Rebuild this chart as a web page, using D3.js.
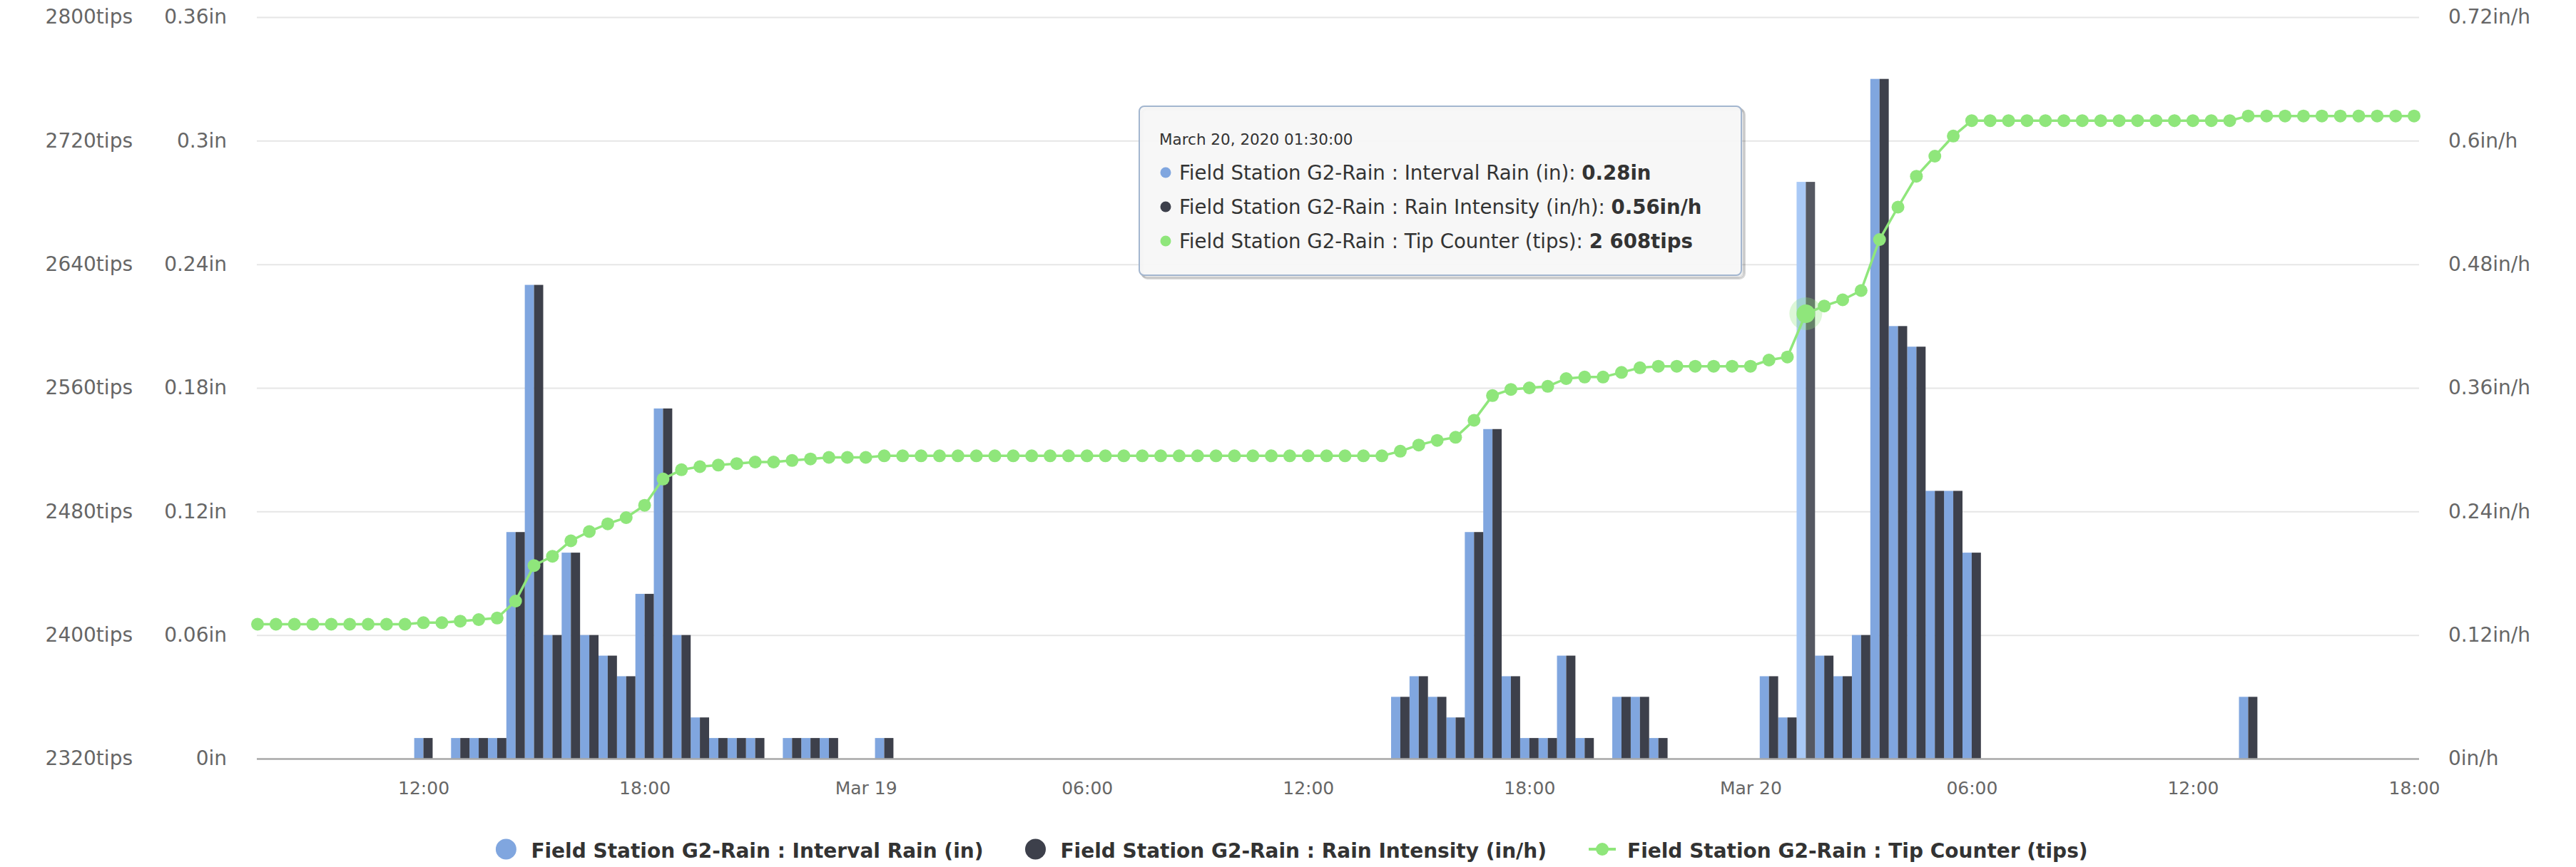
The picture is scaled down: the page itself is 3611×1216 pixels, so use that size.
<!DOCTYPE html>
<html><head><meta charset="utf-8">
<script src="https://cdn.jsdelivr.net/npm/d3@7"></script>
<style>body{margin:0;background:#fff}svg{display:block}</style>
</head><body>
<svg id="chart" width="3611" height="1216"></svg>
<script>
// ---------- DATA ----------
const startTime = new Date(2020, 2, 18, 7, 30);   // first sample, Mar 18 2020 07:30
const stepMinutes = 30;                            // one sample every 30 minutes

// Interval Rain (in), 07:30 Mar 18 -> 18:00 Mar 20 (rows of 6 h)
const intervalRain = [
  0,0,0,0,0,0,0,0,0,0.01,0,0.01,
  0.01,0.01,0.11,0.23,0.06,0.10,0.06,0.05,0.04,0.08,0.17,0.06,
  0.02,0.01,0.01,0.01,0,0.01,0.01,0.01,0,0,0.01,0,
  0,0,0,0,0,0,0,0,0,0,0,0,
  0,0,0,0,0,0,0,0,0,0,0,0,
  0,0,0.03,0.04,0.03,0.02,0.11,0.16,0.04,0.01,0.01,0.05,
  0.01,0,0.03,0.03,0.01,0,0,0,0,0,0.04,0.02,
  0.28,0.05,0.04,0.06,0.33,0.21,0.20,0.13,0.13,0.10,0,0,
  0,0,0,0,0,0,0,0,0,0,0,0,
  0.03,0,0,0,0,0,0,0,0,0
];
// Rain Intensity (in/h)
const rainIntensity = [
  0,0,0,0,0,0,0,0,0,0.02,0,0.02,
  0.02,0.02,0.22,0.46,0.12,0.20,0.12,0.10,0.08,0.16,0.34,0.12,
  0.04,0.02,0.02,0.02,0,0.02,0.02,0.02,0,0,0.02,0,
  0,0,0,0,0,0,0,0,0,0,0,0,
  0,0,0,0,0,0,0,0,0,0,0,0,
  0,0,0.06,0.08,0.06,0.04,0.22,0.32,0.08,0.02,0.02,0.10,
  0.02,0,0.06,0.06,0.02,0,0,0,0,0,0.08,0.04,
  0.56,0.10,0.08,0.12,0.66,0.42,0.40,0.26,0.26,0.20,0,0,
  0,0,0,0,0,0,0,0,0,0,0,0,
  0.06,0,0,0,0,0,0,0,0,0
];
// Tip Counter (tips)
const tipCounter = [
  2407,2407,2407,2407,2407,2407,2407,2407,2407,2408,2408,2409,
  2410,2411,2422,2445,2451,2461,2467,2472,2476,2484,2501,2507,
  2509,2510,2511,2512,2512,2513,2514,2515,2515,2515,2516,2516,
  2516,2516,2516,2516,2516,2516,2516,2516,2516,2516,2516,2516,
  2516,2516,2516,2516,2516,2516,2516,2516,2516,2516,2516,2516,
  2516,2516,2519,2523,2526,2528,2539,2555,2559,2560,2561,2566,
  2567,2567,2570,2573,2574,2574,2574,2574,2574,2574,2578,2580,
  2608,2613,2617,2623,2656,2677,2697,2710,2723,2733,2733,2733,
  2733,2733,2733,2733,2733,2733,2733,2733,2733,2733,2733,2733,
  2736,2736,2736,2736,2736,2736,2736,2736,2736,2736
];

const seriesNames = [
  "Field Station G2-Rain : Interval Rain (in)",
  "Field Station G2-Rain : Rain Intensity (in/h)",
  "Field Station G2-Rain : Tip Counter (tips)"
];
const rainTicks = [0, 0.06, 0.12, 0.18, 0.24, 0.3, 0.36];
const rainTickLabels = ["0in","0.06in","0.12in","0.18in","0.24in","0.3in","0.36in"];
const intensityTicks = [0, 0.12, 0.24, 0.36, 0.48, 0.6, 0.72];
const intensityTickLabels = ["0in/h","0.12in/h","0.24in/h","0.36in/h","0.48in/h","0.6in/h","0.72in/h"];
const tipTicks = [2320, 2400, 2480, 2560, 2640, 2720, 2800];
const tipTickLabels = ["2320tips","2400tips","2480tips","2560tips","2640tips","2720tips","2800tips"];
const xTickTimes = [
  new Date(2020,2,18,12), new Date(2020,2,18,18), new Date(2020,2,19,0), new Date(2020,2,19,6),
  new Date(2020,2,19,12), new Date(2020,2,19,18), new Date(2020,2,20,0), new Date(2020,2,20,6),
  new Date(2020,2,20,12), new Date(2020,2,20,18)
];
const xTickLabels = ["12:00","18:00","Mar 19","06:00","12:00","18:00","Mar 20","06:00","12:00","18:00"];
const tooltipTitle = "March 20, 2020 01:30:00";
const hoverIndex = 84;

// ---------- STYLE ----------
const FONT = "'DejaVu Sans', Verdana, sans-serif";
const C_BLUE = "#80a6df", C_DARK = "#3d404b", C_GREEN = "#8fe67b";
const C_BLUE_H = "#a9c9f6", C_DARK_H = "#555862";
const plot = {left: 360, right: 3391, top: 24, bottom: 1064};

const times = intervalRain.map((_, i) => new Date(startTime.getTime() + i * stepMinutes * 60000));

const svg = d3.select("#chart");
const x = d3.scaleTime()
  .domain([new Date(2020,2,18,7,30), new Date(2020,2,20,18,0)])
  .range([361, 3384]);
const yRain = d3.scaleLinear().domain([0, 0.36]).range([plot.bottom, plot.top]);
const yInt = d3.scaleLinear().domain([0, 0.72]).range([plot.bottom, plot.top]);
const yTip = d3.scaleLinear().domain([2320, 2800]).range([plot.bottom, plot.top]);

// grid
svg.append("g").selectAll("line").data(rainTicks.slice(1)).join("line")
  .attr("x1", plot.left).attr("x2", plot.right)
  .attr("y1", d => yRain(d) + 0.5).attr("y2", d => yRain(d) + 0.5)
  .attr("stroke", "#e6e6e6").attr("stroke-width", 2);

// bars
const half = (x(times[1]) - x(times[0])) / 2;
const bars = svg.append("g");
bars.selectAll("rect.rain").data(times).join("rect")
  .attr("x", d => x(d) - half).attr("width", half)
  .attr("y", (d, i) => yRain(intervalRain[i]))
  .attr("height", (d, i) => plot.bottom - yRain(intervalRain[i]))
  .attr("fill", (d, i) => i === hoverIndex ? C_BLUE_H : C_BLUE);
bars.selectAll("rect.int").data(times).join("rect")
  .attr("x", d => x(d)).attr("width", half)
  .attr("y", (d, i) => yInt(rainIntensity[i]))
  .attr("height", (d, i) => plot.bottom - yInt(rainIntensity[i]))
  .attr("fill", (d, i) => i === hoverIndex ? C_DARK_H : C_DARK);

// baseline
svg.append("line").attr("x1", plot.left).attr("x2", plot.right)
  .attr("y1", plot.bottom + 0.5).attr("y2", plot.bottom + 0.5)
  .attr("stroke", "#a8a8a8").attr("stroke-width", 2.5);

// tip counter line
const line = d3.line().x((d, i) => x(times[i])).y(d => yTip(d));
svg.append("path").datum(tipCounter).attr("d", line)
  .attr("fill", "none").attr("stroke", C_GREEN).attr("stroke-width", 3.5);
svg.append("g").selectAll("circle").data(tipCounter).join("circle")
  .attr("cx", (d, i) => x(times[i])).attr("cy", d => yTip(d))
  .attr("r", 9).attr("fill", C_GREEN);
// hovered point
svg.append("circle").attr("cx", x(times[hoverIndex])).attr("cy", yTip(tipCounter[hoverIndex]))
  .attr("r", 23).attr("fill", C_GREEN).attr("opacity", 0.3);
svg.append("circle").attr("cx", x(times[hoverIndex])).attr("cy", yTip(tipCounter[hoverIndex]))
  .attr("r", 13).attr("fill", C_GREEN);

// axes
function styleAxis(g, size) {
  g.select(".domain").remove();
  g.selectAll(".tick line").remove();
  g.selectAll("text").attr("fill", "#666").attr("font-size", size).attr("font-family", FONT);
}
svg.append("g").attr("transform", "translate(186,0)")
  .call(d3.axisLeft(yTip).tickValues(tipTicks).tickFormat((d, i) => tipTickLabels[i]).tickSize(0).tickPadding(0))
  .call(g => styleAxis(g, 28));
svg.append("g").attr("transform", "translate(318,0)")
  .call(d3.axisLeft(yRain).tickValues(rainTicks).tickFormat((d, i) => rainTickLabels[i]).tickSize(0).tickPadding(0))
  .call(g => styleAxis(g, 28));
svg.append("g").attr("transform", "translate(3432,0)")
  .call(d3.axisRight(yInt).tickValues(intensityTicks).tickFormat((d, i) => intensityTickLabels[i]).tickSize(0).tickPadding(0))
  .call(g => styleAxis(g, 28));
const xg = svg.append("g").attr("transform", `translate(0,${plot.bottom})`)
  .call(d3.axisBottom(x).tickValues(xTickTimes).tickFormat((d, i) => xTickLabels[i]).tickSize(0))
  .call(g => styleAxis(g, 25));
xg.selectAll("text").attr("y", 41).attr("dy", "0.35em");

// legend (items laid out in sequence, centred)
const legY = 1193;
const leg = svg.append("g").attr("font-family", FONT).attr("font-size", 28).attr("font-weight", 700).attr("fill", "#333");
const legendItems = [
  {type: "circle", color: C_BLUE, name: seriesNames[0], textOff: 49},
  {type: "circle", color: C_DARK, name: seriesNames[1], textOff: 49},
  {type: "line", color: C_GREEN, name: seriesNames[2], textOff: 54}
];
const itemGap = 59;
let cursor = 0;
const placed = legendItems.map(it => {
  const g = leg.append("g");
  if (it.type === "circle") {
    g.append("circle").attr("cx", 14).attr("cy", -2).attr("r", 14.5).attr("fill", it.color);
  } else {
    g.append("line").attr("x1", 0).attr("x2", 38).attr("y1", -2).attr("y2", -2)
      .attr("stroke", it.color).attr("stroke-width", 4);
    g.append("circle").attr("cx", 19).attr("cy", -2).attr("r", 9).attr("fill", it.color);
  }
  const t = g.append("text").attr("x", it.textOff).attr("y", 0).attr("dy", "0.35em").text(it.name);
  const w = it.textOff + t.node().getComputedTextLength();
  const start = cursor;
  cursor += w + itemGap;
  return {g, start};
});
const legWidth = cursor - itemGap;
const legStart = 1811 - legWidth / 2;
placed.forEach(p => p.g.attr("transform", `translate(${legStart + p.start},${legY})`));

// tooltip
const tip = svg.append("g").attr("font-family", FONT).attr("fill", "#333");
const tb = {x: 1597, y: 149, w: 844, h: 237};
[3, 2, 1].forEach(o => tip.append("rect").attr("x", tb.x + o * 1.5).attr("y", tb.y + o * 1.5)
  .attr("width", tb.w).attr("height", tb.h).attr("rx", 7)
  .attr("fill", "none").attr("stroke", "#000").attr("stroke-opacity", 0.05 * o).attr("stroke-width", 3));
tip.append("rect").attr("x", tb.x).attr("y", tb.y).attr("width", tb.w).attr("height", tb.h).attr("rx", 7)
  .attr("fill", "rgba(247,247,247,0.95)").attr("stroke", "#a3b6cf").attr("stroke-width", 2);
tip.append("text").attr("x", 1625).attr("y", 195).attr("dy", "0.35em").attr("font-size", 21.5).text(tooltipTitle);
const fmtTip = v => d3.format(",")(v).replace(",", " ");
const rows = [
  {c: C_BLUE, label: seriesNames[0] + ": ", val: intervalRain[hoverIndex] + "in"},
  {c: C_DARK, label: seriesNames[1] + ": ", val: rainIntensity[hoverIndex] + "in/h"},
  {c: C_GREEN, label: seriesNames[2] + ": ", val: fmtTip(tipCounter[hoverIndex]) + "tips"}
];
rows.forEach((r, k) => {
  const yy = 242 + k * 48;
  tip.append("circle").attr("cx", 1634).attr("cy", yy).attr("r", 7.5).attr("fill", r.c);
  const t = tip.append("text").attr("x", 1653).attr("y", yy).attr("dy", "0.35em").attr("font-size", 27.6);
  t.append("tspan").text(r.label);
  t.append("tspan").attr("font-weight", 700).text(r.val);
});
</script>
</body></html>
